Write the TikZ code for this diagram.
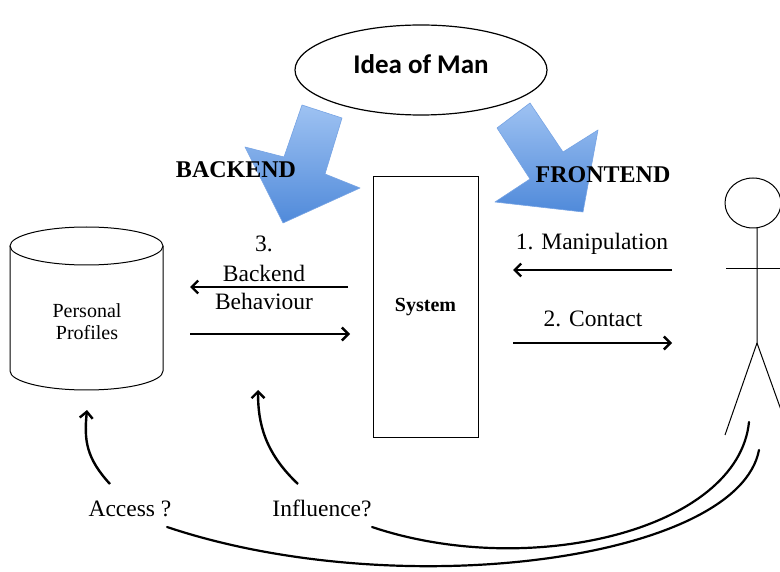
\documentclass[tikz,border=0pt]{standalone}
\usepackage{fontspec}
\setmainfont{Liberation Serif}
\newfontfamily\ideafont{Carlito}
\usetikzlibrary{arrows.meta,shapes.geometric}
\definecolor{arrlight}{RGB}{158,194,242}
\definecolor{arrdark}{RGB}{80,138,218}
\definecolor{arredge}{RGB}{118,163,228}
\tikzset{
  lbl/.style={font=\fontsize{23.5}{28}\selectfont, inner sep=0pt, anchor=base},
  smalllbl/.style={font=\fontsize{20}{23}\selectfont, inner sep=0pt, anchor=base},
  hdr/.style={font=\bfseries\fontsize{24}{28}\selectfont, inner sep=0pt, anchor=base},
  flow/.style={line width=2.4pt, -{Straight Barb[length=6.5pt,width=13pt]}},
  longcurve/.style={line width=2.2pt, line cap=round},
  thinline/.style={line width=1pt},
  bigarrow/.style={top color=arrlight, bottom color=arrdark, draw=arredge, line width=0.6pt, line join=round}
}
\begin{document}
\begin{tikzpicture}[x=1pt,y=-1pt]
\useasboundingbox (0,0) rectangle (780,572);
\fill[white] (0,0) rectangle (780,572);

% big blue arrows
\shadedraw[bigarrow] (302,105) -- (342,118) -- (325,174) -- (360,188) -- (283,223) -- (245,147) -- (284,157) -- cycle;
\shadedraw[bigarrow] (497,128) -- (530,103) -- (563,152) -- (598,130) -- (583,212) -- (495,202) -- (530,179) -- cycle;

% idea of man
\node[ellipse, draw, line width=1.2pt, minimum width=252pt, minimum height=90pt, inner sep=0pt] (idea) at (421,70) {};
\node[font=\ideafont\bfseries\fontsize{27}{30}\selectfont, inner sep=0pt] (ideatext) at (421,64) {Idea of Man};

% headers
\node[hdr] (be) at (236,178) {BACKEND};
\node[hdr] (fe) at (603,183) {FRONTEND};

% system
\node[draw, thinline, minimum width=105pt, minimum height=260pt, inner sep=0pt,
      font=\bfseries\fontsize{20}{24}\selectfont] (sys) at (425.5,307) {System};

% personal profiles cylinder
\draw[thinline] (10,246) -- (10,371) arc[start angle=180, end angle=0, x radius=76.5, y radius=19] -- (163,246);
\draw[thinline] (86.5,246) ellipse[x radius=76.5, y radius=19];
\node[smalllbl] (pp1) at (87,318) {Personal};
\node[smalllbl] (pp2) at (87,340) {Profiles};

% backend labels
\node[lbl] (b3) at (264,252) {3.};
\node[lbl] (b4) at (264,282) {Backend};
\node[lbl] (b5) at (264,310) {Behaviour};

% frontend labels
\node[lbl] (f1) at (592,250) {1. Manipulation};
\node[lbl] (f2) at (593,327) {2. Contact};

% bottom labels
\node[lbl] (acc) at (130,516) {Access ?};
\node[lbl] (inf) at (322,516) {Influence?};

% flow endpoints
\coordinate (b1s) at (348,287); \coordinate (b1e) at (190,287);
\coordinate (b2s) at (190,334); \coordinate (b2e) at (350,334);
\coordinate (f1s) at (672,270); \coordinate (f1e) at (513,270);
\coordinate (f2s) at (513,343); \coordinate (f2e) at (672,343);
\draw[flow] (b1s) -- (b1e);
\draw[flow] (b2s) -- (b2e);
\draw[flow] (f1s) -- (f1e);
\draw[flow] (f2s) -- (f2e);

% access / influence arrows
\coordinate (a0) at (110,484); \coordinate (a1) at (87,410);
\coordinate (i0) at (298,484); \coordinate (i1) at (258,390);
\draw[flow] (a0) .. controls (86,458) and (84,440) .. (a1);
\draw[flow] (i0) .. controls (264,452) and (258,422) .. (i1);

% long curves from the person
\coordinate (c0) at (749,422); \coordinate (c1) at (372,527);
\coordinate (d0) at (759,450); \coordinate (d1) at (167,527);
\draw[longcurve] (c0) .. controls (738,530) and (530,580) .. (c1);
\draw[longcurve] (d0) .. controls (738,560) and (400,605) .. (d1);

% stick figure
\begin{scope}
\clip (0,0) rectangle (780,572);
\draw[thinline] (753,203) ellipse[x radius=28, y radius=25];
\draw[thinline] (726,269) -- (790,269);
\draw[thinline] (757,228) -- (757,343) -- (725,435);
\draw[thinline] (757,343) -- (790,435);
\end{scope}
\end{tikzpicture}
\end{document}
